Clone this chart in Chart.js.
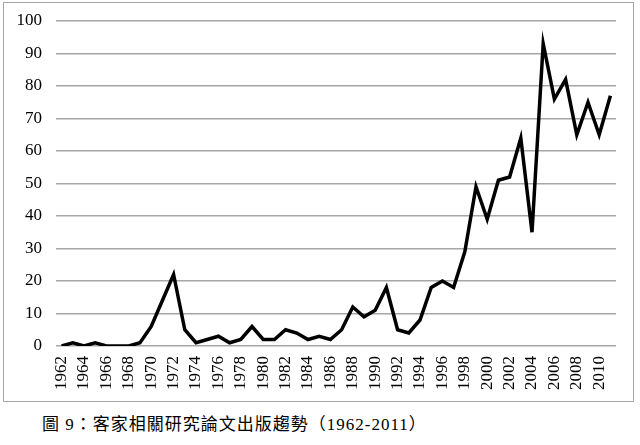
<!DOCTYPE html>
<html>
<head>
<meta charset="utf-8">
<script src="https://cdn.jsdelivr.net/npm/chart.js@4"></script>
<style>
  body { margin: 0; background: #fff; }
  #box { position: absolute; left: 3px; top: 2px; width: 629px; height: 398px; border: 1px solid #a6a6a6; }
  #caption { position: absolute; left: 42px; top: 410px; font-family: "Liberation Serif", "Times New Roman", "DejaVu Serif", serif; font-size: 17px; color: #000; letter-spacing: 1px; }
  #caption .cjk { font-family: "Noto Sans CJK TC", sans-serif; }
</style>
</head>
<body>
<div id="box"><canvas id="myChart" width="629" height="398"></canvas></div>
<div id="caption"><span class="cjk">圖</span> 9<span class="cjk">：客家相關研究論文出版趨勢（</span>1962-2011<span class="cjk">）</span></div>
<script>
var years = [];
for (var y = 1962; y <= 2011; y++) years.push(String(y));
var counts = [0, 1, 0, 1, 0, 0, 0, 1, 6, 14,
              22, 5, 1, 2, 3, 1, 2, 6, 2, 2,
              5, 4, 2, 3, 2, 5, 12, 9, 11, 18,
              5, 4, 8, 18, 20, 18, 29, 49, 39, 51,
              52, 64, 35, 93, 76, 82, 65, 75, 65, 77];
var yTicks = [0, 10, 20, 30, 40, 50, 60, 70, 80, 90, 100];

var serif = '"Liberation Serif", "Times New Roman", "DejaVu Serif", serif';
var ctx = document.getElementById('myChart').getContext('2d');
var myChart = new Chart(ctx, {
  type: 'line',
  data: {
    labels: years,
    datasets: [{
      data: counts,
      borderColor: '#000',
      borderWidth: 3.5,
      pointRadius: 0,
      tension: 0,
      fill: false
    }]
  },
  options: {
    responsive: false,
    animation: false,
    layout: { padding: { top: 18, right: 17, left: 0, bottom: 4 } },
    plugins: { legend: { display: false }, tooltip: { enabled: false } },
    scales: {
      x: {
        offset: true,
        grid: { display: false, drawTicks: false },
        border: { display: false },
        afterFit: function (scale) {
          scale.height = 51;
          scale.paddingLeft = 0;
          scale.paddingRight = 0;
        },
        ticks: {
          autoSkip: false,
          maxRotation: 90,
          minRotation: 90,
          padding: 10,
          color: '#000',
          font: { family: serif, size: 17 },
          callback: function (val, i) { return i % 2 === 0 ? years[i] : ''; }
        }
      },
      y: {
        min: yTicks[0],
        max: yTicks[yTicks.length - 1],
        afterFit: function (scale) {
          scale.width = 52;
          scale.paddingTop = 0;
          scale.paddingBottom = 0;
        },
        grid: { color: '#a6a6a6', lineWidth: 1.5, drawTicks: false },
        border: { display: false },
        ticks: {
          stepSize: 10,
          padding: 14,
          color: '#000',
          font: { family: serif, size: 17 }
        }
      }
    }
  }
});
</script>
</body>
</html>
